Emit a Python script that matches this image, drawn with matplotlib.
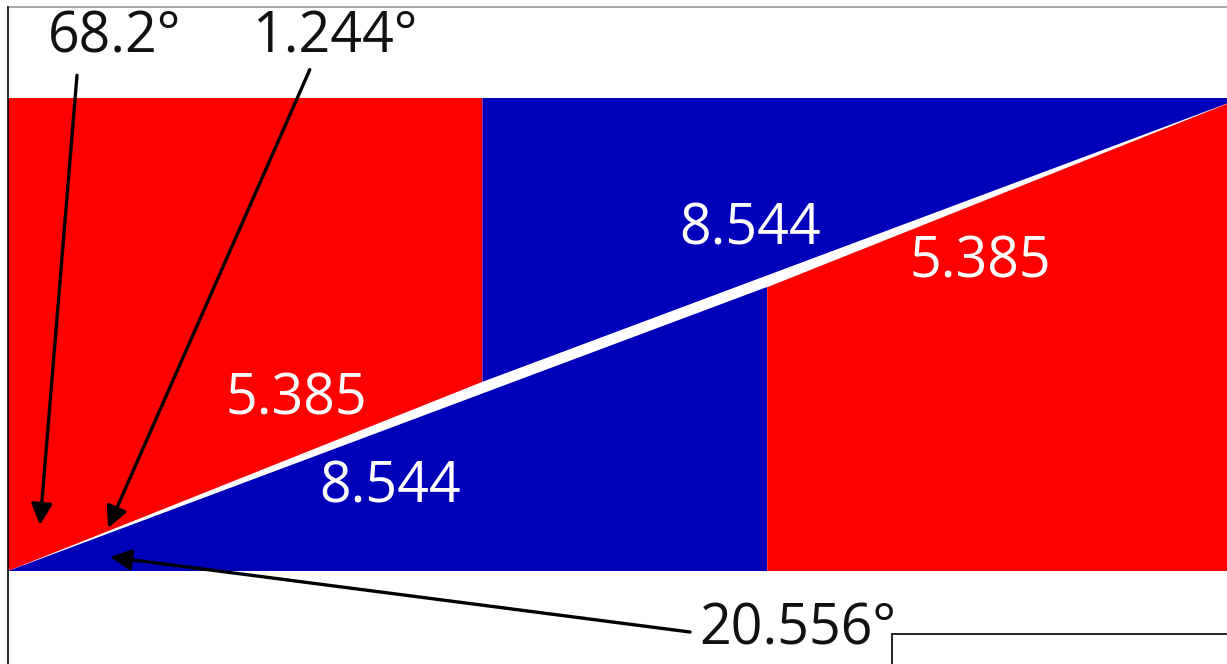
import matplotlib
matplotlib.use("Agg")
import matplotlib.pyplot as plt
from matplotlib.patches import Polygon

# Pieces of the 13 x 5 rectangle (grid units)
piece_names = ["red_left", "blue_top", "blue_bottom", "red_right"]
piece_x = [[0, 5, 5, 0], [5, 13, 5], [0, 8, 8], [8, 13, 13, 8]]
piece_y = [[0, 2, 5, 5], [2, 5, 5], [0, 0, 3], [0, 0, 5, 3]]
piece_colors = ["#FF0000", "#0000BB", "#0000BB", "#FF0000"]

# Side length labels
length_labels = ["5.385", "8.544", "8.544", "5.385"]
length_pos = [(3.035, 1.81), (4.025, 0.88), (7.82, 3.60), (10.24, 3.26)]

# Angle annotations
angle_labels = ["68.2°", "1.244°", "20.556°"]
angle_text_pos = [(1.127, 5.63), (3.446, 5.63), (8.325, -0.62)]
angle_tail = [(0.727, 5.24), (3.18, 5.30), (7.187, -0.645)]
angle_head = [(0.337, 0.486), (1.054, 0.455), (1.075, 0.148)]

fig = plt.figure(figsize=(12.27, 6.64), dpi=100)
ax = fig.add_axes([0, 0, 1, 1])
ax.set_xlim(-0.0843, 12.845)
ax.set_ylim(-0.983, 6.036)
ax.axis("off")

for xs, ys, c in zip(piece_x, piece_y, piece_colors):
    ax.add_patch(Polygon(list(zip(xs, ys)), closed=True, facecolor=c,
                         edgecolor="none", antialiased=True))

font = "Open Sans"
for lab, (x, y) in zip(length_labels, length_pos):
    ax.text(x, y, lab, color="white", fontsize=40, family=font,
            ha="center", va="center")

for lab, tp, tail, head in zip(angle_labels, angle_text_pos, angle_tail, angle_head):
    ax.text(tp[0], tp[1], lab, color="#111111", fontsize=40, family=font,
            ha="center", va="center")
    ax.annotate("", xy=head, xytext=tail,
                arrowprops=dict(arrowstyle="-|>", color="black", lw=2.4,
                                mutation_scale=32, shrinkA=0, shrinkB=0))

# frame lines
ax.plot([0, 13.0], [5.96, 5.96], color="#999999", lw=1.2)
ax.plot([0, 0], [5.96, -0.983], color="black", lw=1.2)
ax.plot([9.315, 13.0], [-0.666, -0.666], color="black", lw=1.2)
ax.plot([9.315, 9.315], [-0.666, -0.983], color="black", lw=1.2)

fig.savefig("out.png", dpi=100)
